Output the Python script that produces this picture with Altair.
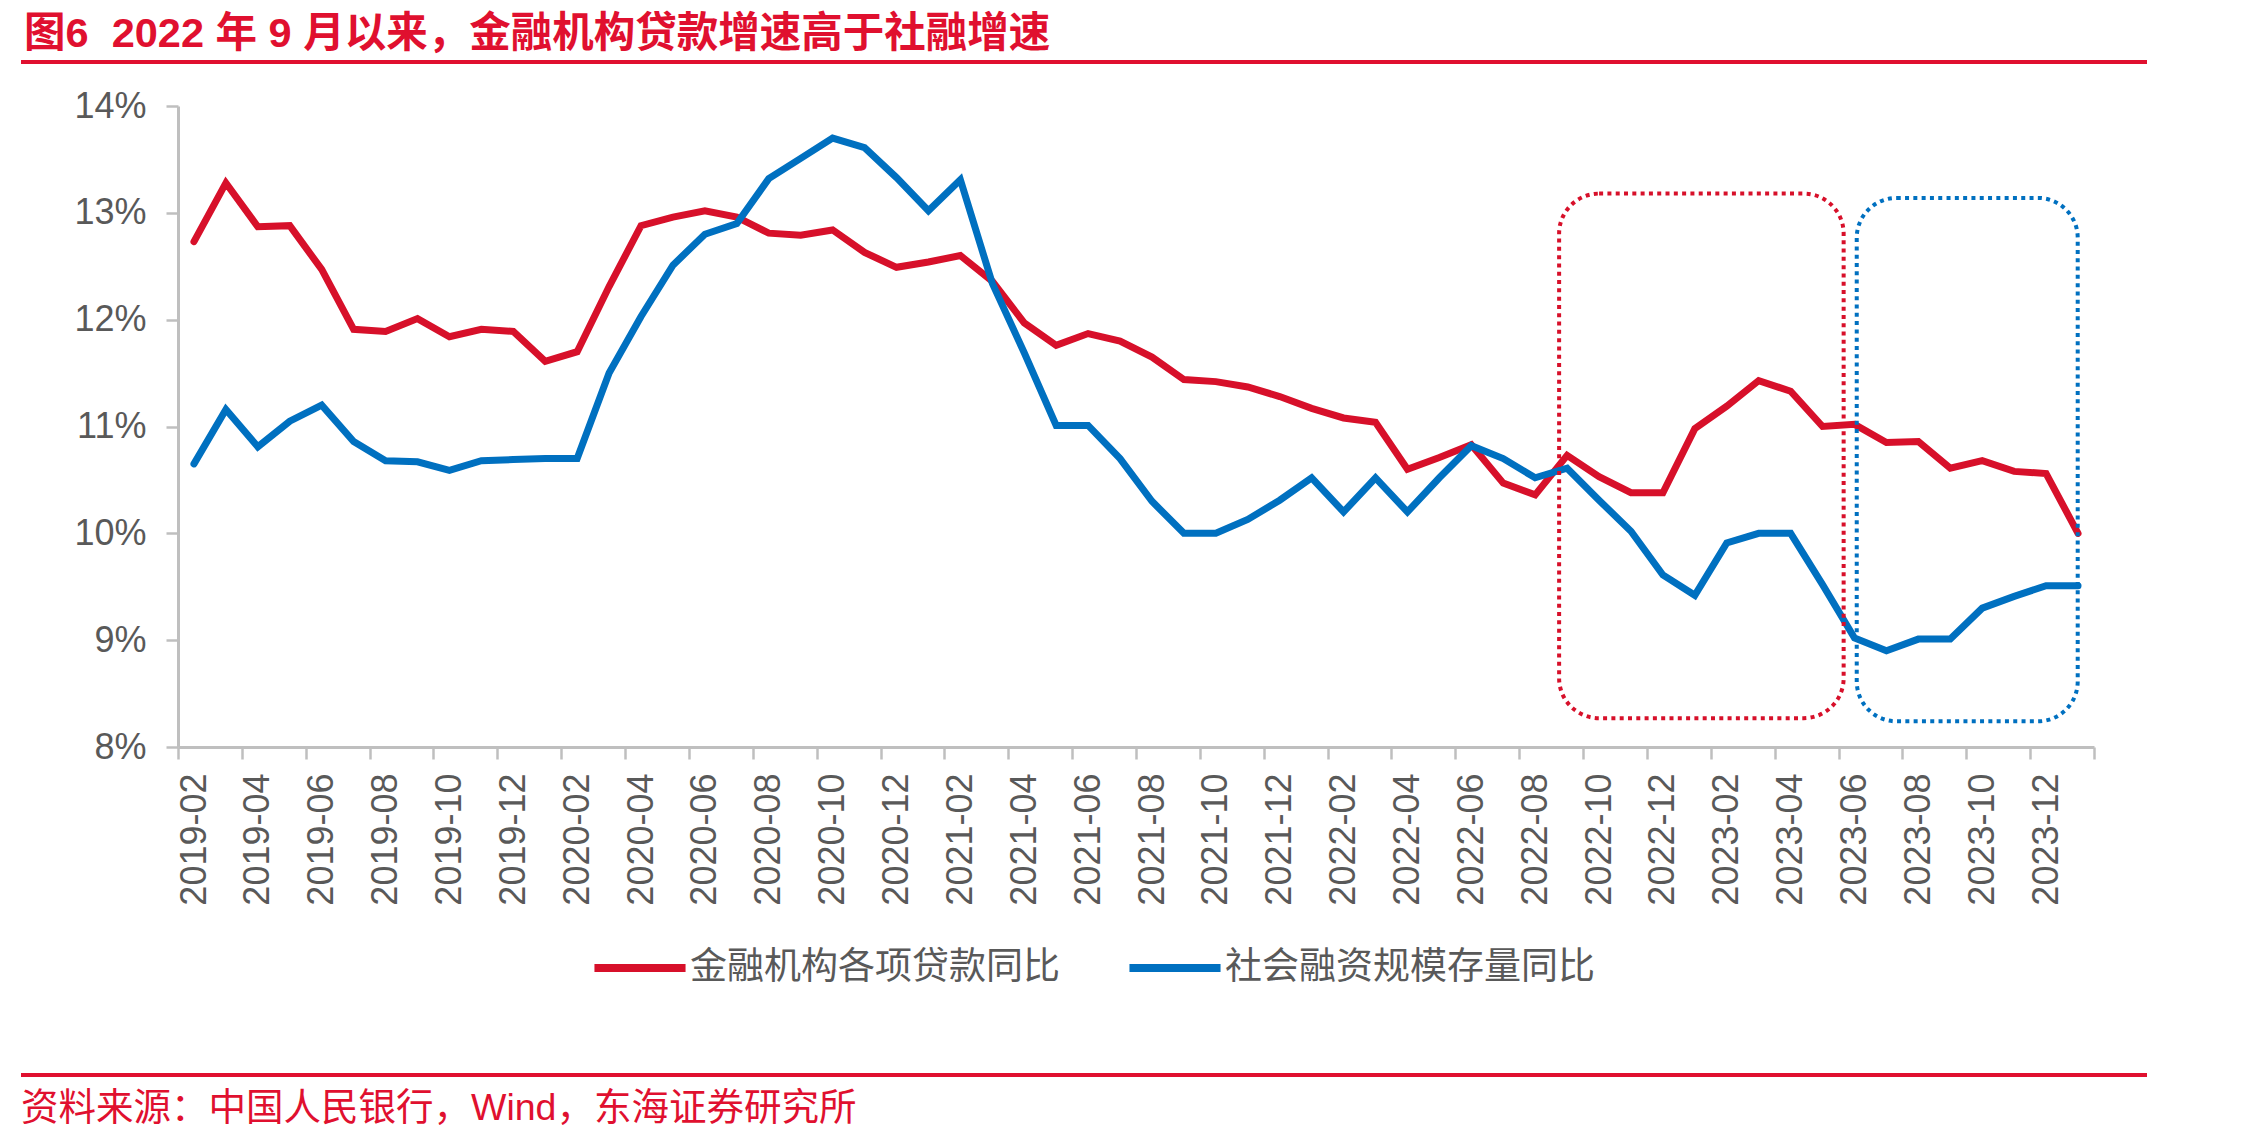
import json
import altair as alt
import pandas as pd

# ---------------- data ----------------
months = [f"{2019 + (m // 12)}-{(m % 12) + 1:02d}" for m in range(1, 61)]  # 2019-02 .. 2024-01
tick_labels = ["2019-02", "2019-04", "2019-06", "2019-08", "2019-10", "2019-12",
               "2020-02", "2020-04", "2020-06", "2020-08", "2020-10", "2020-12",
               "2021-02", "2021-04", "2021-06", "2021-08", "2021-10", "2021-12",
               "2022-02", "2022-04", "2022-06", "2022-08", "2022-10", "2022-12",
               "2023-02", "2023-04", "2023-06", "2023-08", "2023-10", "2023-12"]

loans = [12.73, 13.28, 12.87, 12.88, 12.47, 11.91, 11.89, 12.01, 11.84, 11.91,
         11.89, 11.61, 11.70, 12.31, 12.88, 12.96, 13.02, 12.96, 12.81, 12.79,
         12.84, 12.63, 12.49, 12.54, 12.60, 12.36, 11.97, 11.76, 11.87, 11.80,
         11.65, 11.44, 11.42, 11.37, 11.28, 11.17, 11.08, 11.04, 10.60, 10.71,
         10.83, 10.47, 10.36, 10.73, 10.53, 10.38, 10.38, 10.98, 11.19, 11.43,
         11.33, 11.00, 11.02, 10.85, 10.86, 10.61, 10.68, 10.58, 10.56, 10.00]
tsf = [10.65, 11.16, 10.81, 11.05, 11.20, 10.86, 10.68, 10.67, 10.59, 10.68,
       10.69, 10.70, 10.70, 11.50, 12.03, 12.51, 12.80, 12.90, 13.32, 13.51,
       13.70, 13.61, 13.33, 13.02, 13.31, 12.34, 11.69, 11.01, 11.01, 10.70,
       10.30, 10.00, 10.00, 10.13, 10.31, 10.52, 10.20, 10.52, 10.20, 10.52,
       10.82, 10.70, 10.52, 10.61, 10.31, 10.02, 9.61, 9.42, 9.91, 10.00,
       10.00, 9.52, 9.02, 8.90, 9.01, 9.01, 9.30, 9.41, 9.51, 9.51]

series_names = ["金融机构各项贷款同比", "社会融资规模存量同比"]
series_colors = ["#D7102A", "#0070C0"]

# highlight boxes (in data units: month index, percent)
box_x0 = [42.75, 52.07]
box_x1 = [51.66, 58.99]
box_y0 = [8.27, 8.24]
box_y1 = [13.18, 13.14]
box_color = ["#D7102A", "#0070C0"]

title_text = "图6\u00a0 2022 年 9 月以来，金融机构贷款增速高于社融增速"
source_text = "资料来源：中国人民银行，Wind，东海证券研究所"

# ---------------- build ----------------
rows = []
for name, vals in zip(series_names, [loans, tsf]):
    for i, (m, v) in enumerate(zip(months, vals)):
        rows.append({"series": name, "i": i, "month": m, "value": v})
df = pd.DataFrame(rows)

boxes = pd.DataFrame({"x0": box_x0, "x1": box_x1, "y0": box_y0, "y1": box_y1, "c": box_color})

FONT = "Liberation Sans, Arial, Noto Sans CJK SC, sans-serif"
GREY = "#BFBFBF"
LABEL = "#595959"
RED = "#E0102F"

W, H = 1916, 641
PAD_L, PAD_T = 178, 106

tick_vals = [-0.5 + 2 * k for k in range(31)]
label_expr = f"{json.dumps(tick_labels, ensure_ascii=False)}[round((datum.value + 0.5) / 2)] || ''"

x_enc = alt.X("i:Q",
              scale=alt.Scale(domain=[-0.5, 59.5], nice=False, zero=False),
              axis=alt.Axis(values=tick_vals, labelExpr=label_expr, title=None,
                            grid=False, labelAngle=270, labelOffset=16,
                            labelFlush=False, labelOverlap=False, labelBound=False,
                            tickSize=12, tickWidth=2.5, tickColor=GREY,
                            domainColor=GREY, domainWidth=3,
                            labelFontSize=36, labelColor=LABEL, labelFont=FONT,
                            labelPadding=14))
y_enc = alt.Y("value:Q",
              scale=alt.Scale(domain=[8, 14], nice=False, zero=False),
              axis=alt.Axis(values=[8, 9, 10, 11, 12, 13, 14], labelExpr="datum.value + '%'",
                            title=None, grid=False, tickSize=12, tickWidth=2.5,
                            tickColor=GREY, domainColor=GREY, domainWidth=3,
                            labelFontSize=36, labelColor=LABEL, labelFont=FONT,
                            labelPadding=20))

lines = alt.Chart(df).mark_line(strokeWidth=7, strokeCap="round").encode(
    x=x_enc, y=y_enc,
    color=alt.Color("series:N",
                    scale=alt.Scale(domain=series_names, range=series_colors),
                    legend=alt.Legend(title=None, orient="none", legendX=412, legendY=812,
                                      direction="horizontal", symbolType="stroke",
                                      symbolSize=8300, symbolStrokeWidth=8,
                                      labelFontSize=37, labelColor=LABEL, labelFont=FONT,
                                      labelLimit=0, columnPadding=53, labelOffset=0,
                                      padding=0)),
    order="i:Q",
)

rects = alt.Chart(boxes).mark_rect(fillOpacity=0, strokeWidth=4, strokeDash=[4, 4.3],
                                   cornerRadius=40).encode(
    x="x0:Q", x2="x1:Q", y="y0:Q", y2="y1:Q",
    stroke=alt.Stroke("c:N", scale=None),
)

one = pd.DataFrame({"t": [title_text]})
title = alt.Chart(one).mark_text(align="left", baseline="alphabetic", fontSize=41.5,
                                 fontWeight="bold", color=RED, font=FONT).encode(
    text="t:N", x=alt.value(24 - PAD_L), y=alt.value(47 - PAD_T))

src = alt.Chart(pd.DataFrame({"t": [source_text]})).mark_text(
    align="left", baseline="alphabetic", fontSize=37.5, color=RED, font=FONT).encode(
    text="t:N", x=alt.value(21 - PAD_L), y=alt.value(1120 - PAD_T))

rule_top = alt.Chart(pd.DataFrame({"a": [0]})).mark_rule(color=RED, strokeWidth=4).encode(
    x=alt.value(21 - PAD_L), x2=alt.value(2147 - PAD_L), y=alt.value(62 - PAD_T))
rule_bot = alt.Chart(pd.DataFrame({"a": [0]})).mark_rule(color=RED, strokeWidth=4).encode(
    x=alt.value(21 - PAD_L), x2=alt.value(2147 - PAD_L), y=alt.value(1075 - PAD_T))

chart = alt.layer(lines, rects, title, src, rule_top, rule_bot).properties(
    width=W, height=H,
    autosize=alt.AutoSizeParams(type="none"),
    padding={"left": PAD_L, "top": PAD_T, "right": 2244 - PAD_L - W, "bottom": 1138 - PAD_T - H},
    background="white",
).configure(font=FONT).configure_view(stroke=None)

chart.save("out.html", embed_options={"renderer": "svg", "actions": False})
